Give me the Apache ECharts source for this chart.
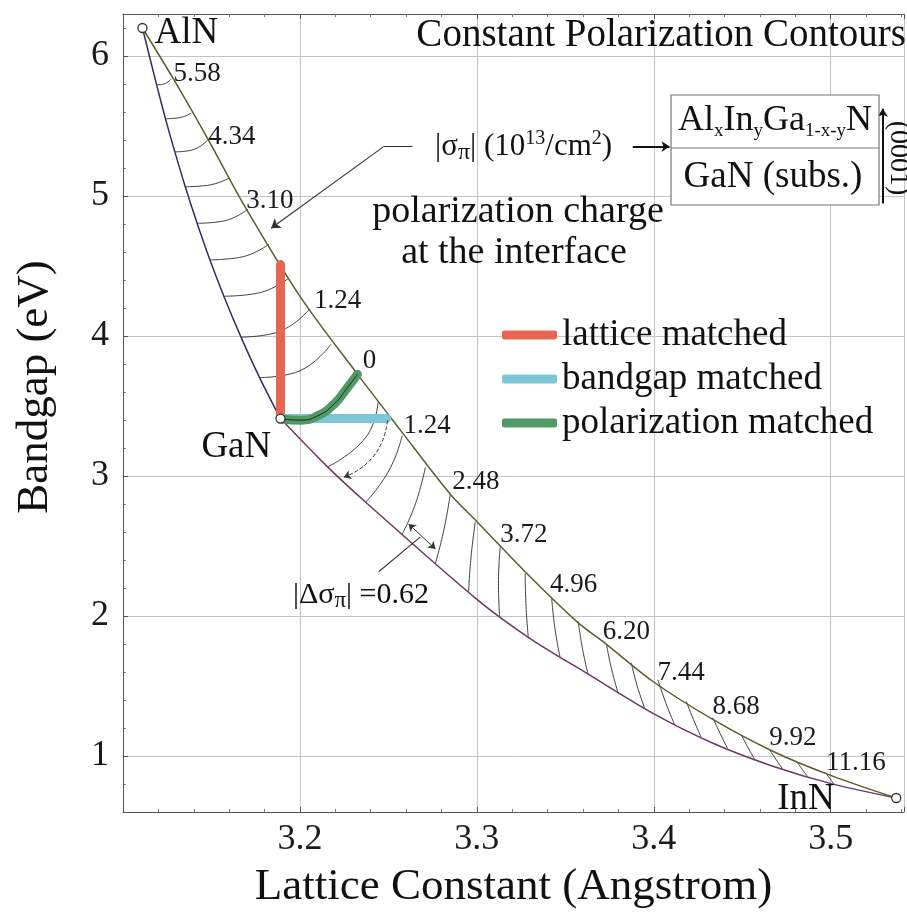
<!DOCTYPE html>
<html><head><meta charset="utf-8">
<script src="https://cdn.jsdelivr.net/npm/echarts@6/dist/echarts.min.js"></script>
<style>html,body{margin:0;padding:0;background:#fff}#c{width:907px;height:915px}</style>
</head><body><div id="c"></div>
<script>
const FONT = "'Liberation Serif','Times New Roman',serif";

// ---- boundary curves (lattice constant Å, bandgap eV) ----
const alnInnCurve = [[3.111,6.2],[3.1285,5.836],[3.1488,5.388],[3.1685,4.933],[3.2006,4.272],[3.2327,3.724],[3.2569,3.326],[3.285,2.87],[3.3002,2.672],[3.3284,2.302],[3.3565,1.96],[3.3734,1.796],[3.3993,1.534],[3.4331,1.263],[3.4669,1.036],[3.5007,0.858],[3.537,0.70]];
const alnGanCurve = [[3.111,6.2],[3.1190,5.794],[3.1240,5.552],[3.1293,5.315],[3.1352,5.066],[3.1419,4.805],[3.1491,4.544],[3.1570,4.284],[3.1667,3.992],[3.1772,3.703],[3.189,3.41]];
const ganInnCurve = [[3.189,3.41],[3.2156,3.065],[3.2383,2.8],[3.3002,2.117],[3.3301,1.839],[3.3622,1.59],[3.3993,1.306],[3.4331,1.093],[3.4669,0.929],[3.5007,0.801],[3.537,0.70]];

// ---- constant polarization contours (|sigma| levels, 0.62 steps) ----
const contourLevelsAbove = ['5.58','4.96','4.34','3.72','3.10','2.48','1.86','1.24','0.62'];
const contoursAbove = [
  [[3.1190,5.794],[3.1231,5.800],[3.1272,5.836]],
  [[3.1240,5.552],[3.1313,5.558],[3.1386,5.592]],
  [[3.1293,5.315],[3.1386,5.327],[3.1478,5.398]],
  [[3.1352,5.066],[3.1478,5.076],[3.1603,5.130]],
  [[3.1419,4.805],[3.1563,4.820],[3.1707,4.907]],
  [[3.1491,4.544],[3.1658,4.561],[3.1825,4.656]],
  [[3.1570,4.284],[3.1754,4.304],[3.1938,4.414]],
  [[3.1667,3.992],[3.1860,4.022],[3.2052,4.189]],
  [[3.1772,3.703],[3.1974,3.739],[3.2175,3.940]]
];
const contourZero = [[3.1903,3.406],[3.2006,3.399],[3.2100,3.430],[3.2193,3.513],[3.2269,3.632],[3.2325,3.726]];
const contourLevelsBelow = ['0.62','1.24','1.86','2.48','3.10','3.72','4.34','4.96','5.58','6.20','6.82','7.44','8.06','8.68','9.30','9.92','10.54','11.16'];
const contoursBelow = [
  [[3.2442,3.532],[3.2372,3.276],[3.2156,3.065]],
  [[3.2578,3.288],[3.2503,3.039],[3.2372,2.813]],
  [[3.2709,3.063],[3.2653,2.802],[3.2578,2.585]],
  [[3.2850,2.873],[3.2813,2.612],[3.2766,2.378]],
  [[3.2991,2.671],[3.2967,2.422],[3.2953,2.171]],
  [[3.3132,2.494],[3.3122,2.233],[3.3128,2.000]],
  [[3.3273,2.304],[3.3278,2.067],[3.3291,1.841]],
  [[3.3423,2.126],[3.3441,1.913],[3.3470,1.705]],
  [[3.3573,1.960],[3.3597,1.765],[3.3629,1.582]],
  [[3.3733,1.794],[3.3761,1.622],[3.3798,1.452]],
  [[3.3873,1.664],[3.3905,1.505],[3.3948,1.343]],
  [[3.4023,1.545],[3.4066,1.385],[3.4117,1.225]],
  [[3.4183,1.391],[3.4224,1.261],[3.4267,1.135]],
  [[3.4333,1.273],[3.4374,1.163],[3.4417,1.053]],
  [[3.4493,1.154],[3.4530,1.066],[3.4568,0.980]],
  [[3.4652,1.048],[3.4690,0.977],[3.4727,0.909]],
  [[3.4811,0.953],[3.4840,0.903],[3.4868,0.854]],
  [[3.4971,0.881],[3.4994,0.840],[3.5018,0.800]]
];
// contour value labels: [text, x, y] (left-middle anchor)
const contourLabels = [
  ['5.58',3.1285,5.872],['4.34',3.1482,5.424],['3.10',3.1696,4.962],['1.24',3.2079,4.250],
  ['0',3.2355,3.824],['1.24',3.2586,3.361],['2.48',3.2861,2.956],['3.72',3.3132,2.579],
  ['4.96',3.3413,2.223],['6.20',3.3712,1.889],['7.44',3.4021,1.597],['8.68',3.4331,1.349],
  ['9.92',3.4652,1.128],['11.16',3.4973,0.950]
];

// ---- matched paths ----
const latticeMatched = [[3.189,3.41],[3.189,4.51]];
const bandgapMatched = [[3.189,3.41],[3.249,3.41]];
const polarizationMatched = contourZero;

// ---- binaries ----
const binaries = [['AlN',3.111,6.2],['GaN',3.189,3.41],['InN',3.537,0.70]];
const binaryLabels = [['AlN',3.1178,6.160],['GaN',3.1443,3.205],['InN',3.4697,0.694]];

// ---- annotation pointers ----
const sigmaPointerTail = [[3.2636,5.353],[3.2473,5.353]];
const sigmaPointerHead = [[3.2473,5.353],[3.1837,4.770]];
const boxPointer = [[3.3881,5.353],[3.4089,5.353]];
const growthArrow = [[3.5294,4.947],[3.5294,5.623]];
const dashedArrow = [[3.2495,3.397],[3.2248,2.991]];
const deltaDoubleArrow = [[3.2614,2.657],[3.2766,2.479]];
const deltaPointer = [[3.2445,2.316],[3.2681,2.565]];

const chart = echarts.init(document.getElementById('c'), null, {renderer:'canvas'});

const series = [];
contoursAbove.concat(contoursBelow).forEach(c => series.push({
  type:'line', data:c, smooth:true, symbol:'none', silent:true, z:2,
  lineStyle:{color:'#2a2a2a', width:0.9}
}));
series.push({type:'line', data:contourZero, smooth:true, symbol:'none', silent:true, z:5, lineStyle:{color:'#1a1a1a', width:0.9}});
series.push({type:'line', data:alnInnCurve, smooth:0.3, symbol:'none', z:3, lineStyle:{color:'#5e5b2c', width:1.5}});
series.push({type:'line', data:alnGanCurve, smooth:0.3, symbol:'none', z:3, lineStyle:{color:'#2c2e6c', width:1.5}});
series.push({type:'line', data:ganInnCurve, smooth:0.3, symbol:'none', z:3, lineStyle:{color:'#6b3a63', width:1.5}});
series.push({name:'lattice matched', type:'line', data:latticeMatched, symbol:'none', z:4,
  itemStyle:{color:'#e8664f'}, lineStyle:{color:'#e8664f', width:9, cap:'round'}});
series.push({name:'bandgap matched', type:'line', data:bandgapMatched, symbol:'none', z:4,
  itemStyle:{color:'#7cc6d6'}, lineStyle:{color:'#7cc6d6', width:9, cap:'round'}});
series.push({name:'polarization matched', type:'line', data:polarizationMatched, smooth:true, symbol:'none', z:4,
  itemStyle:{color:'#4f9a66'}, lineStyle:{color:'#4f9a66', width:9, cap:'round'}});
series.push({type:'scatter', data:binaries.map(b=>[b[1],b[2]]), symbol:'circle', symbolSize:9, z:8, silent:true,
  itemStyle:{color:'#fff', borderColor:'#333', borderWidth:1.3, opacity:1}});
series.push({type:'scatter', data:binaryLabels.map(b=>({value:[b[1],b[2]], name:b[0]})), symbolSize:0, z:9, silent:true,
  itemStyle:{opacity:1},
  label:{show:true, position:'right', distance:0, formatter:p=>p.name, fontFamily:FONT, fontSize:37, color:'#111', opacity:1}});
series.push({type:'scatter', data:contourLabels.map(b=>({value:[b[1],b[2]], name:b[0]})), symbolSize:0, z:9, silent:true,
  itemStyle:{opacity:1},
  label:{show:true, position:'right', distance:0, formatter:p=>p.name, fontFamily:FONT, fontSize:27, color:'#1a1a1a', opacity:1}});
series.push({type:'lines', coordinateSystem:'cartesian2d', silent:true, z:6,
  symbol:['none','none'],
  lineStyle:{color:'#333', width:1.1, opacity:1},
  data:[{coords:sigmaPointerTail},{coords:deltaPointer}]});
series.push({type:'lines', coordinateSystem:'cartesian2d', silent:true, z:6,
  symbol:['none','arrow'], symbolSize:9,
  lineStyle:{color:'#333', width:1.1, opacity:1},
  data:[{coords:sigmaPointerHead}]});
series.push({type:'lines', coordinateSystem:'cartesian2d', silent:true, z:6,
  symbol:['none','arrow'], symbolSize:8,
  lineStyle:{color:'#111', width:2, opacity:1},
  data:[{coords:boxPointer},{coords:growthArrow}]});
series.push({type:'lines', coordinateSystem:'cartesian2d', silent:true, z:6,
  symbol:['none','arrow'], symbolSize:7,
  lineStyle:{color:'#333', width:1, type:'dashed', curveness:0.3, opacity:1},
  data:[{coords:dashedArrow}]});
series.push({type:'lines', coordinateSystem:'cartesian2d', silent:true, z:6,
  symbol:['arrow','arrow'], symbolSize:7,
  lineStyle:{color:'#333', width:1, opacity:1},
  data:[{coords:deltaDoubleArrow}]});

const xFmt = v => (Math.abs(v*10 - Math.round(v*10)) < 1e-6 && v > 3.15) ? v.toFixed(1) : '';
const yFmt = v => (Math.abs(v - Math.round(v)) < 1e-6) ? String(Math.round(v)) : '';
const axisLineStyle = {color:'#555', width:1};

chart.setOption({
  animation:false,
  backgroundColor:'#fff',
  grid:{left:123, top:14, right:0, bottom:98, containLabel:false},
  xAxis:[{
    type:'value', min:3.1, max:3.5414, position:'bottom',
    axisLine:{show:true, onZero:false, lineStyle:axisLineStyle},
    axisTick:{show:true, inside:true, length:5, lineStyle:{color:'#555'}},
    minorTick:{show:true, splitNumber:5, length:3, lineStyle:{color:'#777'}},
    splitLine:{show:true, lineStyle:{color:'#c4c4c4', width:1}},
    axisLabel:{formatter:xFmt, fontFamily:FONT, fontSize:36, color:'#1a1a1a', margin:10},
    name:'Lattice Constant (Angstrom)', nameLocation:'middle', nameGap:53,
    nameTextStyle:{fontFamily:FONT, fontSize:45, color:'#111'}
  },{
    type:'value', min:3.1, max:3.5414, position:'top',
    axisLine:{show:true, onZero:false, lineStyle:axisLineStyle},
    axisTick:{show:true, inside:true, length:5, lineStyle:{color:'#555'}},
    minorTick:{show:true, splitNumber:5, length:3, lineStyle:{color:'#777'}},
    splitLine:{show:false}, axisLabel:{show:false}
  }],
  yAxis:[{
    type:'value', min:0.6, max:6.3,
    axisLine:{show:true, onZero:false, lineStyle:axisLineStyle},
    axisTick:{show:true, inside:true, length:5, lineStyle:{color:'#555'}},
    minorTick:{show:true, splitNumber:5, length:3, lineStyle:{color:'#777'}},
    splitLine:{show:true, lineStyle:{color:'#c4c4c4', width:1}},
    axisLabel:{formatter:yFmt, fontFamily:FONT, fontSize:36, color:'#1a1a1a', margin:14}
  }],
  legend:{
    orient:'vertical', left:497, top:308, itemWidth:55, itemHeight:9, itemGap:0,
    data:[{name:'lattice matched', icon:'roundRect'},{name:'bandgap matched', icon:'roundRect'},{name:'polarization matched', icon:'roundRect'}],
    textStyle:{fontFamily:FONT, fontSize:37, color:'#111', lineHeight:44},
    selectedMode:false
  },
  series:series,
  graphic:[
    {type:'text', x:35, y:387, rotation:Math.PI/2, z:100,
      style:{text:'Bandgap (eV)', fontFamily:FONT, fontSize:45, fill:'#111', align:'center', verticalAlign:'middle'}},
    {type:'text', x:906, y:36, z:100,
      style:{text:'Constant Polarization Contours', fontFamily:FONT, fontSize:39, fill:'#111', align:'right', verticalAlign:'middle'}},
    {type:'text', x:435, y:147, z:100,
      style:{text:'{t||σ}{sub|π}{t|| (10}{sup|13}{t|/cm}{sup|2}{t|)}', align:'left', verticalAlign:'middle',
        rich:{t:{fontFamily:FONT, fontSize:31, fill:'#111', lineHeight:36},
              sub:{fontFamily:FONT, fontSize:24, fill:'#111', lineHeight:22, verticalAlign:'bottom'},
              sup:{fontFamily:FONT, fontSize:20, fill:'#111', lineHeight:20, verticalAlign:'top'}}}},
    {type:'text', x:518, y:212, z:100,
      style:{text:'polarization charge', fontFamily:FONT, fontSize:38, fill:'#111', align:'center', verticalAlign:'middle'}},
    {type:'text', x:514, y:253, z:100,
      style:{text:'at the interface', fontFamily:FONT, fontSize:38, fill:'#111', align:'center', verticalAlign:'middle'}},
    {type:'rect', z:90, shape:{x:671, y:95, width:208, height:110},
      style:{fill:'#fff', stroke:'#777', lineWidth:1.2}},
    {type:'line', z:91, shape:{x1:671, y1:148, x2:879, y2:148}, style:{stroke:'#777', lineWidth:1.2}},
    {type:'text', x:775, y:121, z:100,
      style:{text:'{b|Al}{s|x}{b|In}{s|y}{b|Ga}{s|1-x-y}{b|N}', align:'center', verticalAlign:'middle',
        rich:{b:{fontFamily:FONT, fontSize:36, fill:'#111', lineHeight:40},
              s:{fontFamily:FONT, fontSize:19, fill:'#111', lineHeight:22, verticalAlign:'bottom'}}}},
    {type:'text', x:773, y:177, z:100,
      style:{text:'GaN (subs.)', fontFamily:FONT, fontSize:37, fill:'#111', align:'center', verticalAlign:'middle'}},
    {type:'text', x:898, y:158, rotation:-Math.PI/2, z:100,
      style:{text:'(0001)', fontFamily:FONT, fontSize:28, fill:'#111', align:'center', verticalAlign:'middle'}},
    {type:'text', x:293, y:595, z:100,
      style:{text:'{t||Δσ}{sub|π}{t|| =0.62}', align:'left', verticalAlign:'middle',
        rich:{t:{fontFamily:FONT, fontSize:30, fill:'#111', lineHeight:34},
              sub:{fontFamily:FONT, fontSize:23, fill:'#111', lineHeight:22, verticalAlign:'bottom'}}}}
  ]
});
</script>
</body></html>
